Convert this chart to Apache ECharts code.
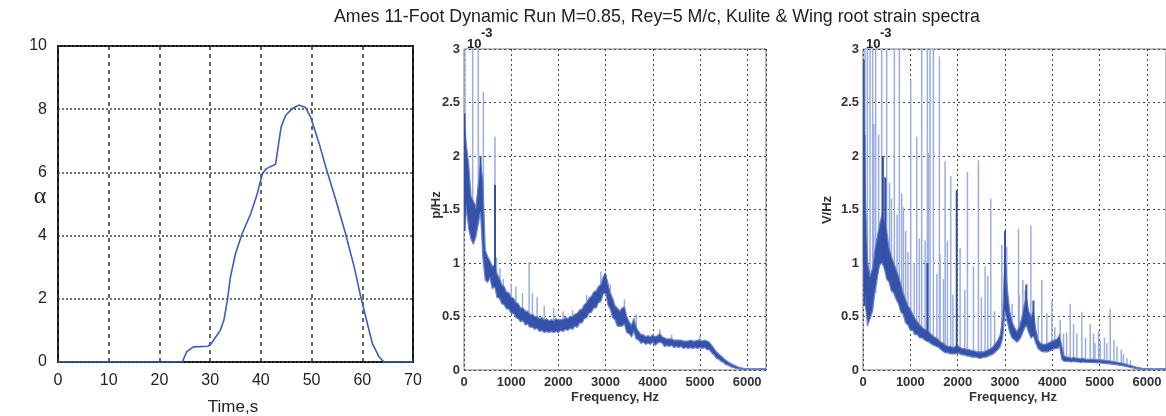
<!DOCTYPE html>
<html><head><meta charset="utf-8">
<script src="https://cdn.jsdelivr.net/npm/echarts@6/dist/echarts.min.js"></script>
<style>html,body{margin:0;padding:0;background:#fff}#c{width:1166px;height:416px}</style>
</head><body><div id="c"></div>
<script>
// ---------- DATA ----------
const chartTitle = 'Ames 11-Foot Dynamic Run M=0.85, Rey=5 M/c, Kulite & Wing root strain spectra';

// Left panel: angle of attack vs time
const timeS =    [0, 24.5, 25.4, 26.7, 29.6, 30.2, 31.1, 32.0, 32.7, 33.4, 34.0, 35.0, 36.3, 38.0, 39.3, 40.3, 41.1, 42.9, 43.5, 44.0, 44.9, 46.2, 47.5, 48.8, 49.8, 51.5, 52.8, 54.8, 56.7, 58.4, 59.7, 61.0, 62.0, 63.3, 64.3, 70];
const alphaDeg = [0, 0,    0.33, 0.48, 0.50, 0.58, 0.79, 1.00, 1.32, 1.95, 2.69, 3.43, 4.06, 4.69, 5.33, 5.96, 6.12, 6.26, 6.91, 7.44, 7.81, 8.02, 8.13, 8.05, 7.76, 6.91, 6.17, 5.12, 4.06, 3.01, 2.06, 1.22, 0.58, 0.16, 0, 0];

// Spectra sample frequencies (Hz)
const freqHz = [0,50,100,150,200,250,300,350,400,450,500,550,600,650,700,750,800,850,900,950,1000,1050,1100,1150,1200,1250,1300,1350,1400,1450,1500,1550,1600,1650,1700,1750,1800,1850,1900,1950,2000,2050,2100,2150,2200,2250,2300,2350,2400,2450,2500,2550,2600,2650,2700,2750,2800,2850,2900,2950,3000,3050,3100,3150,3200,3250,3300,3350,3400,3450,3500,3550,3600,3650,3700,3750,3800,3850,3900,3950,4000,4050,4100,4150,4200,4250,4300,4350,4400,4450,4500,4550,4600,4650,4700,4750,4800,4850,4900,4950,5000,5050,5100,5150,5200,5250,5300,5350,5400,5450,5500,5550,5600,5650,5700,5750,5800,5850,5900,5950,6000,6050,6100,6150,6200,6250,6300,6350,6400];

// Middle panel (Kulite p/Hz, x1e-3): lower and upper edge of the noisy band
const kuliteLo = [1.30,1.50,1.32,1.22,1.18,1.24,1.36,1.48,1.05,0.84,
0.82,0.86,0.76,0.78,0.68,0.67,0.62,0.61,0.57,0.57,
0.53,0.53,0.49,0.48,0.45,0.46,0.42,0.43,0.40,0.40,
0.38,0.39,0.36,0.37,0.35,0.36,0.35,0.36,0.35,0.36,
0.35,0.37,0.36,0.38,0.37,0.39,0.38,0.41,0.40,0.44,
0.44,0.48,0.49,0.53,0.54,0.58,0.58,0.63,0.64,0.71,
0.72,0.61,0.57,0.49,0.47,0.41,0.41,0.41,0.43,0.35,
0.34,0.31,0.36,0.29,0.28,0.25,0.26,0.24,0.25,0.24,
0.26,0.23,0.25,0.26,0.25,0.22,0.23,0.22,0.23,0.21,
0.22,0.21,0.22,0.20,0.21,0.20,0.21,0.20,0.21,0.20,
0.21,0.20,0.21,0.19,0.19,0.16,0.14,0.11,0.10,0.08,
0.07,0.05,0.045,0.032,0.025,0.016,0.012,0.007,0.005,0.004,
0.003,0.003,0.003,0.003,0.003,0.003,0.003,0.003,0.003];
const kuliteHi = [2.40,2.10,1.92,1.62,1.58,1.52,1.72,1.92,1.78,1.12,
1.06,1.02,0.97,0.98,0.90,0.86,0.80,0.78,0.73,0.72,
0.68,0.67,0.63,0.62,0.58,0.58,0.55,0.55,0.52,0.52,
0.50,0.50,0.48,0.49,0.47,0.48,0.46,0.47,0.46,0.48,
0.47,0.47,0.47,0.49,0.48,0.50,0.50,0.52,0.53,0.56,
0.57,0.61,0.63,0.67,0.69,0.73,0.74,0.78,0.80,0.87,
0.90,0.81,0.72,0.67,0.60,0.58,0.55,0.58,0.59,0.50,
0.45,0.42,0.48,0.40,0.36,0.33,0.33,0.31,0.32,0.31,
0.33,0.31,0.32,0.34,0.31,0.30,0.29,0.29,0.29,0.28,
0.28,0.28,0.28,0.27,0.27,0.27,0.28,0.27,0.27,0.28,
0.28,0.27,0.28,0.27,0.26,0.23,0.20,0.17,0.15,0.13,
0.11,0.09,0.075,0.06,0.05,0.04,0.03,0.022,0.018,0.014,
0.012,0.012,0.011,0.012,0.011,0.012,0.012,0.012,0.013];
// Kulite tonal peaks [frequency Hz, peak value]
const kuliteSpikesLight = [[21,3.5],[184,3.5],[303,3.5],[410,2.6],[657,2.18],[692,1.05],[760,0.95],[830,0.85],[1000,0.80],[1100,0.78],[1240,0.72],[1380,1.01],[1450,0.72],[1550,0.68],[1700,0.60],[1900,0.58],[2100,0.55],[2300,0.56],[2600,0.70],[2900,0.92],[3100,0.80],[3400,0.66],[3650,0.52],[4150,0.38],[4400,0.33],[5000,0.32]];
const kuliteSpikesDark = [[10,2.4],[350,2.0],[657,1.73],[2990,0.9]];

// Right panel (Wing root strain V/Hz, x1e-3)
const strainLo = [1.00,0.60,0.42,0.48,0.55,0.72,0.85,0.98,1.00,0.95,
0.85,0.82,0.74,0.72,0.66,0.62,0.54,0.52,0.44,0.42,
0.37,0.37,0.33,0.33,0.30,0.30,0.28,0.27,0.26,0.24,
0.23,0.22,0.21,0.19,0.17,0.16,0.16,0.15,0.15,0.15,
0.16,0.15,0.14,0.14,0.13,0.13,0.12,0.12,0.12,0.11,
0.11,0.12,0.12,0.13,0.14,0.15,0.17,0.19,0.22,0.30,
0.55,0.45,0.35,0.30,0.28,0.26,0.28,0.32,0.38,0.42,
0.35,0.30,0.32,0.25,0.20,0.18,0.17,0.17,0.17,0.18,
0.19,0.20,0.20,0.22,0.10,0.08,0.08,0.08,0.075,0.08,
0.075,0.075,0.07,0.075,0.07,0.07,0.07,0.068,0.068,0.066,
0.066,0.064,0.062,0.06,0.058,0.055,0.052,0.05,0.046,0.042,
0.038,0.034,0.028,0.024,0.02,0.015,0.011,0.008,0.005,0.004,
0.003,0.003,0.003,0.003,0.003,0.003,0.003,0.003,0.003];
const strainHi = [2.80,1.60,1.00,0.88,0.95,1.12,1.24,1.36,1.45,1.38,
1.30,1.14,1.06,1.00,0.94,0.88,0.80,0.72,0.66,0.60,
0.57,0.52,0.48,0.45,0.42,0.40,0.38,0.37,0.35,0.33,
0.31,0.30,0.28,0.26,0.25,0.23,0.22,0.22,0.21,0.22,
0.23,0.21,0.20,0.20,0.19,0.19,0.18,0.18,0.17,0.17,
0.17,0.17,0.18,0.19,0.20,0.22,0.25,0.28,0.33,0.50,
1.10,0.75,0.55,0.45,0.40,0.36,0.40,0.48,0.60,0.68,
0.55,0.50,0.55,0.38,0.28,0.25,0.24,0.24,0.25,0.26,
0.27,0.28,0.29,0.33,0.22,0.13,0.12,0.12,0.11,0.12,
0.11,0.11,0.105,0.11,0.10,0.10,0.10,0.10,0.098,0.096,
0.095,0.094,0.09,0.088,0.086,0.082,0.078,0.075,0.07,0.066,
0.06,0.055,0.048,0.042,0.036,0.03,0.024,0.02,0.016,0.014,
0.012,0.012,0.012,0.011,0.012,0.012,0.012,0.012,0.012];
const strainSpikesLight = [[42,3.5],[92,3.5],[148,3.5],[204,3.5],[268,3.5],[395,3.5],[500,3.5],[662,3.5],[768,3.5],[1240,3.5],[1360,3.5],[1416,3.5],[1487,3.5],[1614,2.93],[1008,2.71],[1135,2.18],[1381,2.03],[1734,1.95],[1853,1.81],[2206,1.85],[2438,1.96],[2699,1.60],[3284,1.32],[3545,1.35],[3777,0.84],[3989,0.65],[4376,0.62],[4623,0.54],[4799,0.43],[4975,0.37],[5222,0.57],[5455,0.19],
[817,1.65],[853,1.52],[1191,1.23],[1311,1.21],[1628,1.08],[1783,1.21],[2051,1.14],[2333,0.97],[2579,0.97],[2636,0.88],[2932,1.17],[3037,1.15],[3376,0.84],[3425,0.75],[3883,0.53],[4165,0.47],[4235,0.34],[4447,0.43],[4517,0.34],[4870,0.34],[5011,0.28],[5152,0.25],[5363,0.22],[5575,0.11],
[230,2.3],[330,2.2],[560,1.75],[600,1.6],[720,1.45],[900,1.3],[950,1.1],[1080,1.0],[1560,0.9],[1700,0.85],[1900,0.7],[2150,0.75],[2500,0.68],[2780,0.55],[3150,0.62],[3300,0.7],[3700,0.5],[4050,0.4],[4300,0.35],[4700,0.3],[4900,0.25],[5100,0.3],[5300,0.28],[5500,0.15],[5650,0.09]];
const strainSpikesDark = [[15,2.9],[30,2.2],[420,2.0],[470,1.8],[1360,1.0],[1980,1.68],[3000,1.3],[3450,0.8],[3600,0.65]];

// ---------- CHART ----------
const chart = echarts.init(document.getElementById('c'), null, {renderer:'canvas'});
const FONT = 'Arial, "Liberation Sans", sans-serif';
const LIGHT = '#9aade2', DARK = '#3150a8', BAND = '#3452aa';

function bandRenderer(lo, hi){
  return function(params, api){
    const pts = [];
    for (let i = 0; i < freqHz.length; i++) pts.push(api.coord([freqHz[i], hi[i]]));
    for (let i = freqHz.length - 1; i >= 0; i--) pts.push(api.coord([freqHz[i], lo[i]]));
    return {type:'polygon', shape:{points:pts}, style:{fill:BAND, stroke:'#6a82cc', lineWidth:1.2}};
  };
}
function spikeRenderer(lo, color, width){
  return function(params, api){
    const f = api.value(0);
    const top = Math.min(api.value(1), 3.05);
    const base = lo[Math.round(f / 50)];
    const p1 = api.coord([f, base]), p2 = api.coord([f, top]);
    return {type:'line', shape:{x1:p1[0], y1:p1[1], x2:p2[0], y2:p2[1]}, style:{stroke:color, lineWidth:width}};
  };
}

const specX = (gi) => ({
  gridIndex: gi, type:'value', min:0, max:6400, interval:1000,
  axisLine:{show:false}, axisTick:{show:false},
  axisLabel:{showMaxLabel:false, margin:6, fontFamily:FONT, fontSize:13, fontWeight:'bold', color:'#333', formatter:(v)=>String(v)},
  splitLine:{show:true, lineStyle:{color:'#444', type:[2,3], width:1}}
});
const specY = (gi) => ({
  gridIndex: gi, type:'value', min:0, max:3, interval:0.5,
  axisLabel:{margin:4, fontFamily:FONT, fontSize:13, fontWeight:'bold', color:'#333', formatter:(v)=>String(v)},
  axisLine:{show:false}, axisTick:{show:false},
  splitLine:{show:true, lineStyle:{color:'#444', type:[2,3], width:1}}
});

const option = {
  backgroundColor:'#fff',
  animation:false,
  grid:[
    {left:58, top:46, width:355, height:316, show:true, borderColor:'#111', borderWidth:2, backgroundColor:'transparent'},
    {left:464, top:49, width:302, height:321, show:true, borderColor:'#7a7a7a', borderWidth:1},
    {left:863, top:49, width:303, height:321, show:true, borderColor:'#7a7a7a', borderWidth:1}
  ],
  xAxis:[
    {gridIndex:0, type:'value', min:0, max:70, interval:10,
     axisLine:{show:false}, axisTick:{show:false},
     axisLabel:{margin:11, fontFamily:FONT, fontSize:16, color:'#222'},
     splitLine:{show:true, lineStyle:{color:'#333', type:[4,4], width:1.5}}},
    specX(1), specX(2)
  ],
  yAxis:[
    {gridIndex:0, type:'value', min:0, max:10, interval:2,
     axisLine:{show:false}, axisTick:{show:false},
     axisLabel:{margin:11, fontFamily:FONT, fontSize:16, color:'#222'},
     splitLine:{show:true, lineStyle:{color:'#444', type:[2,2], width:1.5}}},
    specY(1), specY(2)
  ],
  graphic:[
    {type:'text', x:657, y:17, style:{text:chartTitle, font:'17.8px ' + FONT, fill:'#222', textAlign:'center', textVerticalAlign:'middle'}},
    {type:'text', x:40, y:197, style:{text:'α', font:'24px "Liberation Serif", serif', fill:'#222', textAlign:'center', textVerticalAlign:'middle'}},
    {type:'text', x:233, y:407, style:{text:'Time,s', font:'17px ' + FONT, fill:'#222', textAlign:'center', textVerticalAlign:'middle'}},
    {type:'text', x:615, y:397, style:{text:'Frequency, Hz', font:'bold 13px ' + FONT, fill:'#333', textAlign:'center', textVerticalAlign:'middle'}},
    {type:'text', x:1013, y:397, style:{text:'Frequency, Hz', font:'bold 13px ' + FONT, fill:'#333', textAlign:'center', textVerticalAlign:'middle'}},
    {type:'text', x:436, y:205, rotation:Math.PI/2, style:{text:'p/Hz', font:'bold 13px ' + FONT, fill:'#333', textAlign:'center', textVerticalAlign:'middle'}},
    {type:'text', x:827, y:210, rotation:Math.PI/2, style:{text:'V/Hz', font:'bold 13px ' + FONT, fill:'#333', textAlign:'center', textVerticalAlign:'middle'}},
    {type:'text', x:467, y:44, style:{text:'10', font:'bold 13px ' + FONT, fill:'#222', textVerticalAlign:'middle'}},
    {type:'text', x:481, y:33, style:{text:'-3', font:'bold 13px ' + FONT, fill:'#222', textVerticalAlign:'middle'}},
    {type:'text', x:866, y:44, style:{text:'10', font:'bold 13px ' + FONT, fill:'#222', textVerticalAlign:'middle'}},
    {type:'text', x:880, y:33, style:{text:'-3', font:'bold 13px ' + FONT, fill:'#222', textVerticalAlign:'middle'}}
  ],
  series:[
    {type:'line', xAxisIndex:0, yAxisIndex:0, data:timeS.map((t,i)=>[t, alphaDeg[i]]),
     showSymbol:false, lineStyle:{color:'#3d5cc0', width:1.6}, z:5},
    {type:'custom', xAxisIndex:1, yAxisIndex:1, clip:true, data:kuliteSpikesLight, renderItem:spikeRenderer(kuliteLo, LIGHT, 1.5), z:2},
    {type:'custom', xAxisIndex:1, yAxisIndex:1, clip:true, data:[[0,0]], renderItem:bandRenderer(kuliteLo, kuliteHi), z:3},
    {type:'custom', xAxisIndex:1, yAxisIndex:1, clip:true, data:kuliteSpikesDark, renderItem:spikeRenderer(kuliteLo, DARK, 2), z:4},
    {type:'custom', xAxisIndex:2, yAxisIndex:2, clip:true, data:strainSpikesLight, renderItem:spikeRenderer(strainLo, LIGHT, 1.5), z:2},
    {type:'custom', xAxisIndex:2, yAxisIndex:2, clip:true, data:[[0,0]], renderItem:bandRenderer(strainLo, strainHi), z:3},
    {type:'custom', xAxisIndex:2, yAxisIndex:2, clip:true, data:strainSpikesDark, renderItem:spikeRenderer(strainLo, DARK, 2), z:4}
  ]
};
chart.setOption(option);
</script>
</body></html>
